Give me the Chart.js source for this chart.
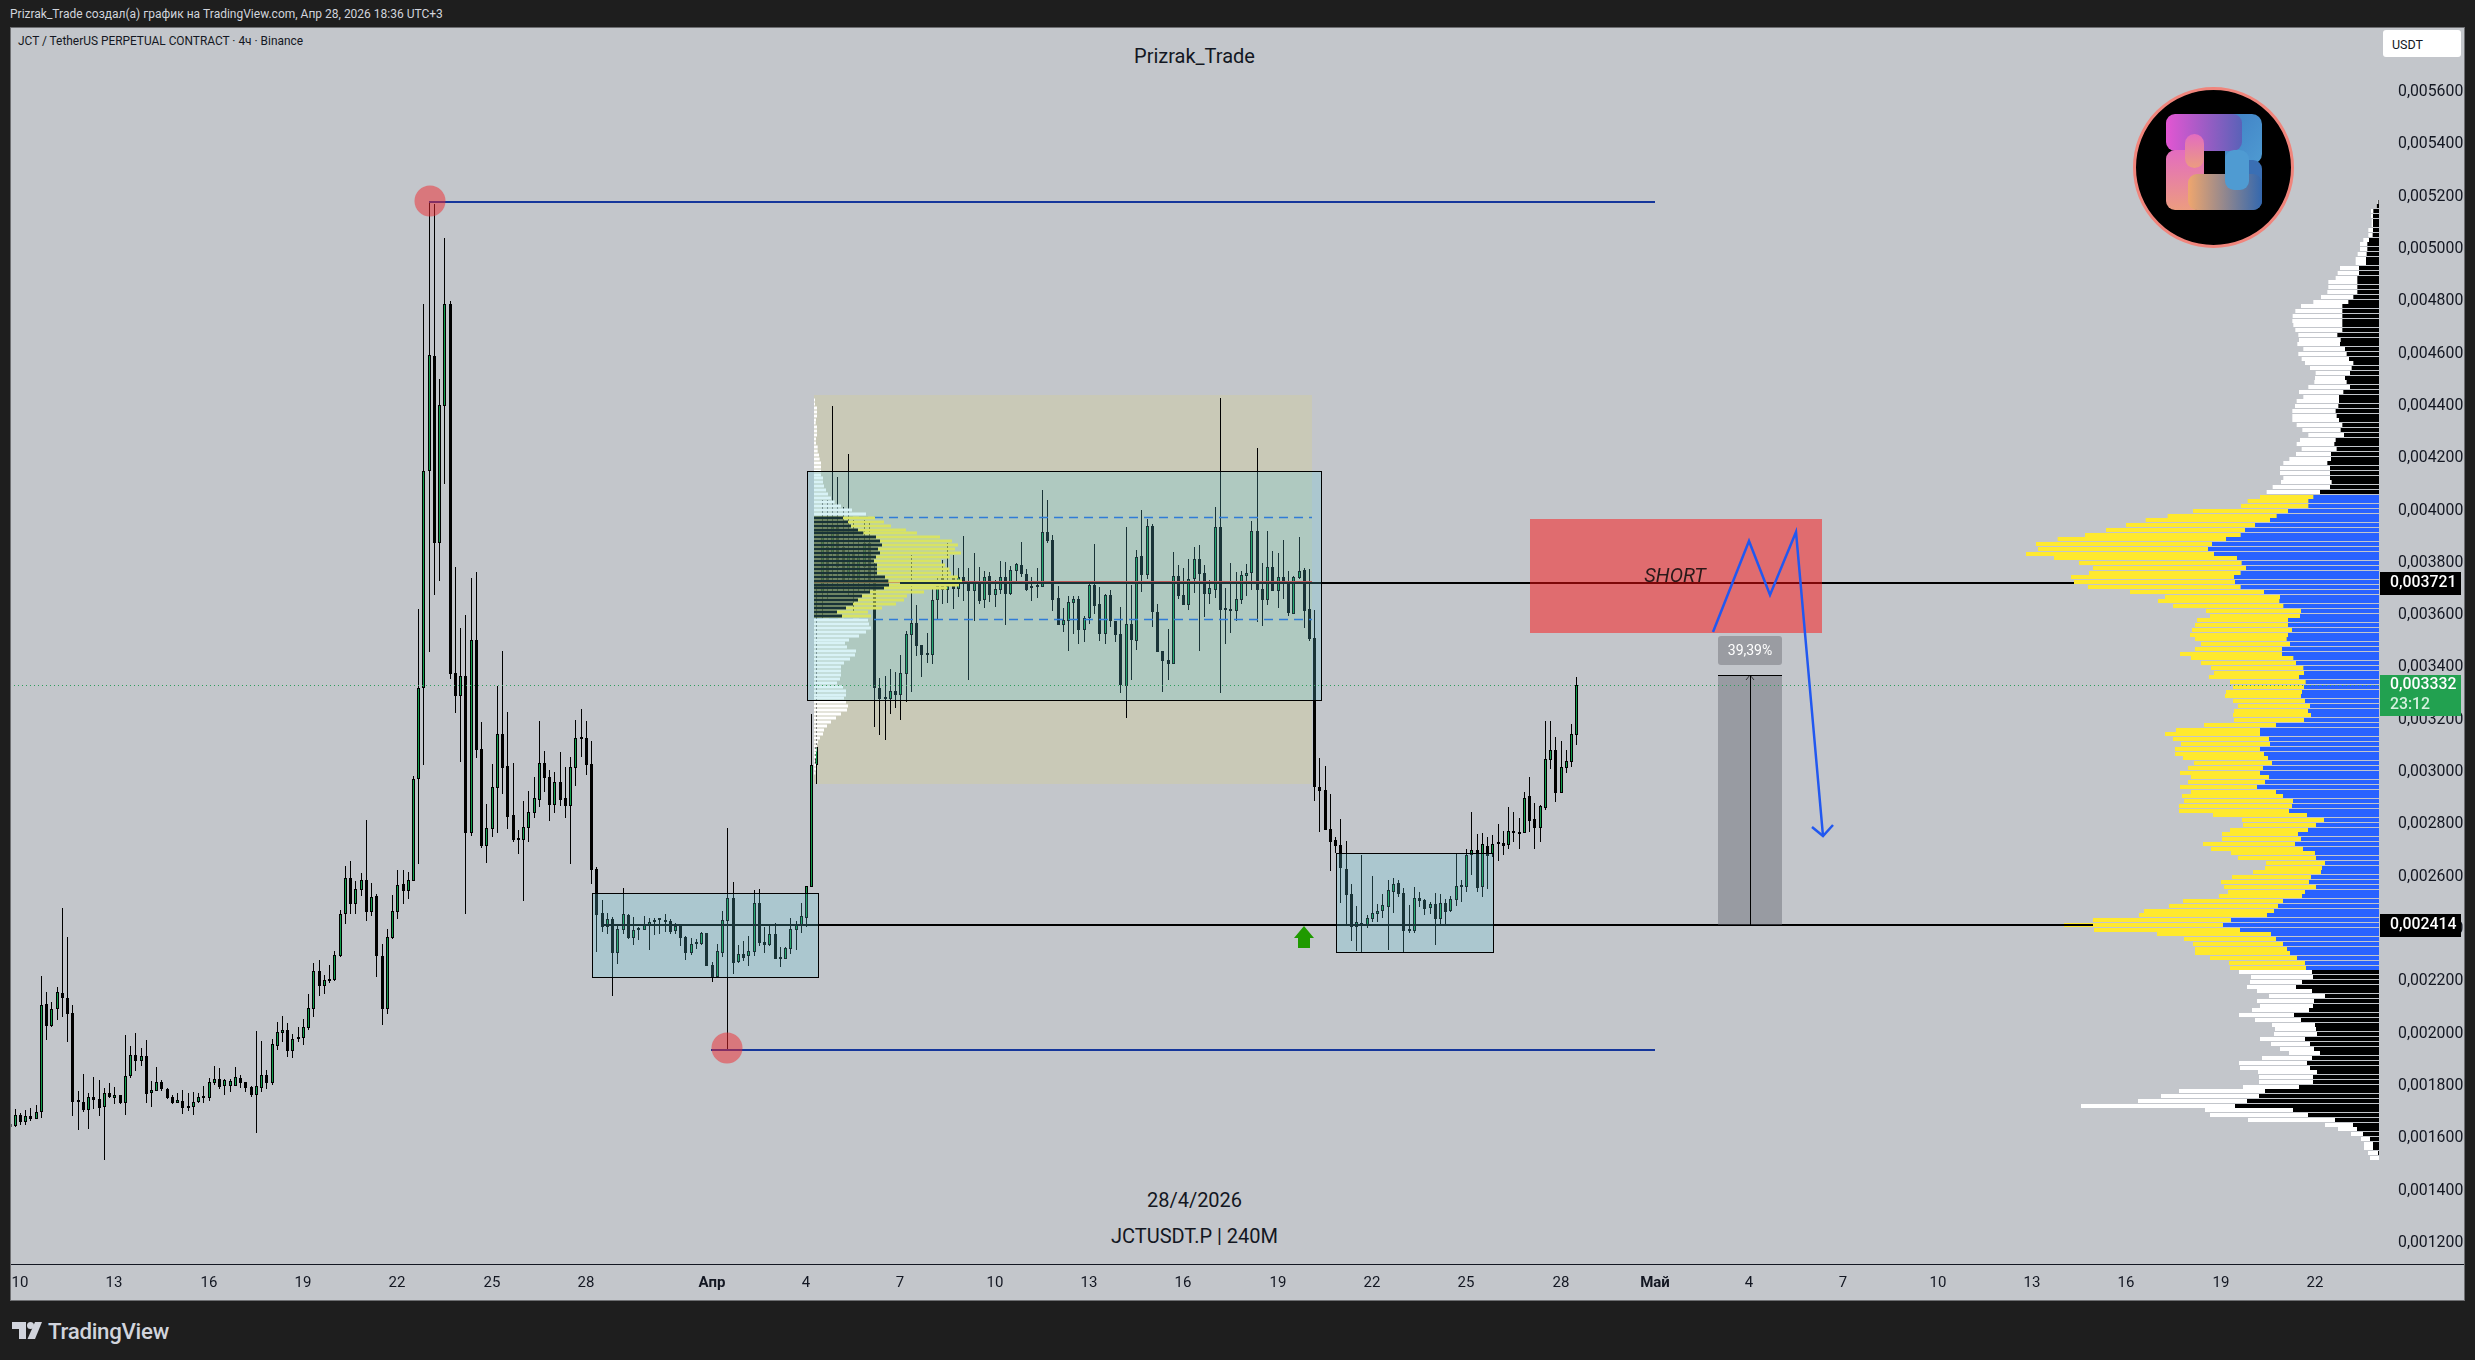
<!DOCTYPE html>
<html lang="ru">
<head>
<meta charset="utf-8">
<title>JCTUSDT.P 240M</title>
<script src="https://cdn.jsdelivr.net/npm/chart.js@4/dist/chart.umd.min.js"></script>
<style>
    html, body { margin: 0; padding: 0; width: 2475px; height: 1360px; overflow: hidden; background: #1e1e1e; font-family: Roboto, sans-serif; }
    #pane { position: absolute; left: 10px; top: 27px; width: 2453px; height: 1272px; background: #c3c6cb; border: 1px solid #6e6f72; }
    canvas { position: absolute; left: 0; top: 0; }
    .txt { position: absolute; white-space: nowrap; }
    #header { left: 10px; top: 7px; font-size: 12px; color: #d1d4dc; }
    #symbol { left: 18px; top: 34px; font-size: 11.9px; color: #131722; }
    .mark { left: 0; width: 2389px; text-align: center; color: #131722; font-size: 20px; }
    #usdt { left: 2383px; top: 30px; width: 78px; height: 27px; background: #fff; border-radius: 3px; font-size: 12.5px; line-height: 29px; text-indent: 9px; color: #131722; }
    #brand { left: 48px; top: 1318px; font-size: 22.3px; font-weight: 500; color: #d1d4dc; letter-spacing: -0.3px; }
    #brandIcon { position: absolute; left: 12px; top: 1322px; }
    #logo { position: absolute; left: 2132px; top: 86px; }
</style>
</head>
<body>
<div id="pane"></div>
<div class="txt" id="header">Prizrak_Trade создал(а) график на TradingView.com, Апр 28, 2026 18:36 UTC+3</div>
<div class="txt" id="symbol">JCT / TetherUS PERPETUAL CONTRACT · 4ч · Binance</div>
<div class="txt mark" style="top:44px">Prizrak_Trade</div>
<div class="txt mark" style="top:1188px">28/4/2026</div>
<div class="txt mark" style="top:1224px">JCTUSDT.P | 240M</div>
<div class="txt" id="usdt">USDT</div>
<div class="txt" id="brand">TradingView</div>
<svg id="brandIcon" width="30" height="18" viewBox="0 0 30 18">
    <path fill="#d1d4dc" d="M0 0H14V17H7V7H0Z"/>
    <circle fill="#d1d4dc" cx="18.5" cy="3.5" r="3.5"/>
    <path fill="#d1d4dc" d="M23 0H30L23 17H15.5Z"/>
</svg>
<canvas id="grafico" width="2475" height="1360"></canvas>
<svg id="logo" width="164" height="164" viewBox="0 0 164 164" style="z-index:3">
    <defs>
        <linearGradient id="gTop" x1="0" x2="1" y1="0" y2="0"><stop offset="0" stop-color="#e356d2"/><stop offset="1" stop-color="#5a62b8"/></linearGradient>
        <linearGradient id="gRight" x1="0" x2="1" y1="0" y2="1"><stop offset="0" stop-color="#3f7fc4"/><stop offset="1" stop-color="#4f9bd2"/></linearGradient>
        <linearGradient id="gLeft" x1="0" x2="0" y1="0" y2="1"><stop offset="0" stop-color="#e36cc0"/><stop offset="1" stop-color="#ec9c80"/></linearGradient>
        <linearGradient id="gBottom" x1="0" x2="1" y1="0" y2="0"><stop offset="0" stop-color="#efa66e"/><stop offset="1" stop-color="#3468ae"/></linearGradient>
    </defs>
    <circle cx="81.5" cy="81.5" r="79" fill="#000" stroke="#f0857c" stroke-width="3"/>
    <g transform="translate(34,28)">
        <rect x="57" y="0" width="39" height="50" rx="10" fill="url(#gRight)"/>
        <rect x="0" y="0" width="76" height="37" rx="9" fill="url(#gTop)"/>
        <rect x="60" y="46" width="36" height="50" rx="9" fill="#3a6fb4"/>
        <rect x="0" y="36" width="38" height="60" rx="9" fill="url(#gLeft)"/>
        <rect x="19" y="20" width="19" height="34" rx="9.5" fill="url(#gLeft)"/>
        <rect x="22" y="60" width="74" height="36" rx="9" fill="url(#gBottom)"/>
        <rect x="38" y="37" width="21" height="23" fill="#000"/>
        <rect x="59" y="36" width="24" height="40" rx="9" fill="#4f9bd2"/>
    </g>
</svg>

<script>
// Velas de 4h: a posição 0 dos arrays é a barra -2 (10 mar = barra 0)
// Preços em milionésimos de USDT: 3332 = 0,003332
const firstBar = -2;
const opens = [
    1655,1648,1688,1664,1684,1675,1699,2112,2031,2093,
    2154,2135,2078,1741,1738,1710,1757,1749,1721,1772,
    1755,1766,1736,1840,1917,1897,1913,1775,1782,1814,
    1787,1757,1736,1741,1722,1721,1738,1755,1755,1813,
    1826,1798,1801,1801,1829,1814,1795,1767,1794,1841,
    1813,1954,2004,2013,1934,1986,1985,2023,2096,2238,
    2184,2203,2204,2297,2456,2594,2497,2551,2586,2467,
    2525,2296,2096,2365,2467,2571,2547,2585,2972,3320,
    4152,4590,3877,4401,4788,3378,3292,3366,2768,3504,
    3087,2719,2784,2941,3144,3023,2835,2743,2739,2788,
    2845,2895,3034,2980,2876,2961,2900,2872,3017,3128,
    3129,3030,2630,2460,2409,2437,2310,2398,2452,2367,
    2398,2398,2414,2435,2437,2435,2430,2394,2414,2370,
    2310,2344,2344,2385,2261,2217,2310,2432,2517,2273,
    2303,2296,2314,2498,2349,2339,2380,2289,2287,2325,
    2398,2414,2444,2562,3026,3684,3862,3836,3938,3862,
    3747,3836,3734,3785,3875,3722,3322,3280,3280,3309,
    3296,3375,3524,3569,3485,3450,3449,3656,3747,3696,
    3741,3700,3745,3728,3694,3722,3658,3749,3678,3696,
    3745,3682,3770,3791,3756,3703,3709,3709,3917,3886,
    3664,3562,3579,3648,3661,3543,3589,3715,3643,3528,
    3677,3577,3528,3329,3566,3503,3825,3754,3941,3612,
    3463,3429,3413,3749,3677,3639,3738,3814,3760,3681,
    3696,3937,3622,3622,3617,3658,3751,3763,3921,3699,
    3656,3783,3694,3745,3729,3606,3742,3771,3622,3511,
    2942,2930,2781,2739,2720,2628,2533,2409,2422,2416,
    2440,2458,2469,2484,2542,2575,2537,2393,2393,2518,
    2511,2481,2496,2439,2500,2469,2511,2561,2561,2683,
    2701,2561,2716,2687,2725,2729,2723,2774,2770,2769,
    2909,2821,2786,2864,3048,3085,2921,3017,3040,3143,
];
const highs = [
    1674,1712,1696,1708,1715,1727,2221,2159,2121,2179,
    2481,2370,2108,1781,1846,1772,1834,1823,1791,1812,
    1796,1766,1995,1953,2001,1944,1976,1819,1873,1822,
    1791,1766,1772,1784,1772,1777,1772,1800,1829,1875,
    1868,1826,1826,1873,1841,1815,1800,2010,1972,1860,
    1980,2045,2068,2040,1999,2026,2056,2151,2269,2282,
    2223,2263,2316,2472,2641,2659,2584,2614,2817,2576,
    2534,2343,2400,2530,2626,2626,2618,2985,3624,4790,
    5181,5172,4503,5042,4801,3784,3551,3601,3742,3765,
    3190,2877,3031,3329,3463,3229,3034,2779,2888,2927,
    2981,3195,3081,3008,3000,3077,3020,3058,3199,3241,
    3195,3119,2637,2511,2460,2445,2412,2556,2458,2446,
    2407,2450,2441,2441,2441,2458,2438,2422,2414,2372,
    2366,2362,2389,2385,2274,2343,2469,2786,2580,2339,
    2354,2373,2549,2553,2408,2414,2423,2331,2331,2442,
    2431,2500,2565,3222,3715,4040,4040,4400,4128,4015,
    4216,3964,3900,3964,3951,3798,3359,3367,3393,3383,
    3448,3540,3830,3639,3486,3531,3703,3747,3811,3875,
    3830,3779,3903,3779,3839,3785,3769,3765,3734,3807,
    3803,3788,3801,3878,3775,3746,3780,4079,4040,3907,
    3712,3627,3673,3673,3672,3597,3722,3872,3709,3681,
    3696,3577,3630,3937,3715,3849,4002,3968,3949,3643,
    3463,3547,3842,3792,3780,3815,3861,3868,3792,3734,
    4014,4430,3703,3799,3765,3769,3796,3960,4238,3799,
    3922,3845,3838,3887,3769,3750,3899,3780,3777,3620,
    3053,3023,2915,2751,2821,2735,2572,2488,2683,2454,
    2603,2496,2534,2588,2595,2588,2557,2492,2561,2542,
    2515,2503,2538,2534,2515,2526,2691,2588,2706,2848,
    2763,2767,2752,2760,2802,2775,2867,2848,2825,2924,
    2981,2881,2874,3195,3195,3134,3119,3085,3184,3364,
];
const lows = [
    1638,1645,1651,1651,1668,1675,1678,1976,2026,2052,
    2065,1968,1685,1632,1702,1636,1712,1685,1517,1754,
    1733,1733,1689,1831,1857,1877,1735,1720,1781,1782,
    1750,1731,1736,1693,1705,1689,1735,1735,1743,1804,
    1789,1766,1777,1800,1793,1777,1758,1620,1777,1789,
    1805,1938,1968,1911,1907,1968,1957,2015,2064,2144,
    2152,2195,2203,2293,2419,2458,2459,2526,2431,2450,
    2217,2033,2075,2361,2439,2496,2515,2585,2649,3027,
    3461,3677,3731,4102,3356,3227,3039,2458,2756,3055,
    2710,2653,2752,2767,2916,2782,2733,2687,2507,2733,
    2825,2867,2924,2813,2844,2870,2825,2649,2947,3058,
    2989,2572,2312,2389,2381,2144,2266,2381,2362,2339,
    2358,2396,2320,2377,2381,2389,2381,2381,2335,2282,
    2301,2324,2339,2259,2198,2215,2293,1940,2228,2270,
    2278,2259,2297,2335,2308,2335,2286,2255,2286,2305,
    2320,2385,2408,2562,2955,3588,3658,3684,3684,3684,
    3677,3613,3684,3684,3684,3174,3142,3123,3222,3245,
    3199,3268,3306,3444,3365,3416,3413,3584,3644,3645,
    3624,3671,3654,3352,3578,3643,3627,3652,3631,3681,
    3562,3677,3729,3747,3692,3654,3666,3709,3876,3616,
    3562,3536,3463,3528,3490,3498,3566,3605,3501,3490,
    3555,3498,3303,3207,3352,3467,3689,3738,3555,3459,
    3306,3352,3413,3662,3639,3620,3685,3463,3593,3643,
    3666,3303,3490,3532,3578,3643,3673,3696,3574,3559,
    3639,3692,3627,3662,3597,3605,3738,3551,3501,2891,
    2771,2779,2622,2690,2500,2416,2354,2316,2311,2404,
    2427,2427,2442,2320,2461,2523,2311,2384,2385,2484,
    2454,2458,2339,2419,2416,2465,2488,2503,2542,2607,
    2542,2523,2553,2674,2660,2683,2706,2733,2706,2766,
    2771,2706,2733,2855,3012,2886,2920,2997,3020,3104,
];
const closes = [
    1645,1688,1664,1684,1674,1699,2108,2031,2093,2158,
    2138,2077,1740,1740,1708,1757,1748,1717,1772,1758,
    1766,1736,1837,1917,1897,1913,1771,1784,1814,1787,
    1754,1736,1745,1716,1716,1738,1757,1757,1814,1826,
    1796,1822,1818,1833,1813,1793,1766,1799,1841,1813,
    1959,2005,2013,1934,1979,1980,2026,2097,2238,2184,
    2204,2204,2300,2456,2594,2497,2552,2586,2467,2521,
    2295,2096,2368,2468,2567,2547,2586,2972,3320,4150,
    4593,3875,4402,4788,3376,3292,3366,2768,3504,3086,
    2718,2785,2942,3144,3017,2830,2742,2742,2789,2846,
    2900,3034,2979,2876,2961,2895,2872,3018,3129,3129,
    3028,2627,2455,2409,2437,2310,2399,2456,2366,2395,
    2400,2414,2426,2427,2435,2427,2389,2410,2367,2310,
    2342,2347,2385,2260,2215,2315,2433,2517,2271,2303,
    2291,2315,2498,2348,2340,2380,2287,2287,2326,2399,
    2414,2449,2563,3026,3095,3900,3734,3938,3785,3722,
    3836,3734,3824,3875,3722,3320,3280,3287,3309,3296,
    3378,3528,3569,3483,3449,3449,3658,3713,3696,3713,
    3700,3747,3722,3694,3722,3654,3745,3678,3699,3745,
    3682,3771,3796,3759,3696,3710,3712,3917,3884,3658,
    3562,3580,3649,3661,3543,3589,3715,3635,3528,3677,
    3578,3524,3333,3566,3505,3822,3754,3941,3612,3459,
    3425,3413,3749,3673,3639,3737,3814,3757,3681,3703,
    3937,3620,3620,3617,3661,3752,3760,3921,3696,3656,
    3783,3692,3745,3729,3608,3745,3768,3617,3509,2944,
    2929,2779,2733,2719,2633,2530,2409,2426,2416,2441,
    2460,2468,2491,2548,2571,2534,2393,2395,2518,2507,
    2477,2495,2439,2498,2465,2514,2563,2563,2682,2701,
    2557,2725,2679,2725,2728,2718,2774,2767,2763,2900,
    2813,2786,2870,3049,3083,2921,3018,3041,3144,3332,
];

// Eixos
const priceTicks = [5600,5400,5200,5000,4800,4600,4400,4200,4000,3800,3600,3400,3200,3000,2800,2600,2400,2200,2000,1800,1600,1400,1200];
const timeTickBars = [0,18,36,54,72,90,108,132,150,168,186,204,222,240,258,276,294,312,330,348,366,384,402,420,438];
const timeTickLabels = ["10","13","16","19","22","25","28","Апр","4","7","10","13","16","19","22","25","28","Май","4","7","10","13","16","19","22"];

// Perfil de volume da direita (de cima para baixo)
const rightProfileTop = 5181;
const rightProfileStep = 18.19;
const rightProfileValueArea = [62, 161];
const rightProfileTotal = [
    4,9,24,24,22,22,32,32,47,57,57,64,70,70,117,124,130,152,152,155,
    174,197,234,251,259,260,257,251,242,240,245,227,242,232,222,207,190,192,194,212,
    240,227,247,252,260,260,260,247,230,212,237,247,232,249,269,287,297,297,287,294,
    319,337,357,394,414,558,634,700,759,819,882,964,1029,1023,1059,975,900,858,870,924,
    915,873,747,642,663,618,519,507,546,552,561,567,552,534,552,597,564,534,504,495,
    510,447,438,459,462,438,423,435,438,435,525,609,642,618,594,612,612,588,555,573,
    597,564,573,597,564,591,585,600,600,498,411,408,447,471,471,528,504,444,423,339,
    342,378,441,474,465,453,480,588,630,705,720,858,945,855,666,585,558,552,552,507,
    450,447,420,384,387,396,366,330,366,357,381,420,372,321,312,315,357,324,297,270,
    351,420,417,363,360,360,408,600,654,723,894,522,507,393,162,123,84,54,45,45,33,27,
];
const rightProfileInner = [
    2,7,17,18,18,18,18,19,30,35,35,37,39,39,60,60,65,65,65,65,
    77,92,110,110,110,110,110,110,125,115,117,102,97,90,77,82,87,102,97,87,
    107,120,120,122,130,127,120,110,115,105,130,134,127,144,144,155,147,147,147,142,
    147,177,197,212,212,273,307,327,372,402,415,459,501,513,495,426,412,399,415,435,
    432,415,345,297,299,287,234,237,273,273,261,273,277,267,291,291,257,249,227,225,
    240,220,225,231,234,222,207,213,204,225,309,357,357,330,327,357,345,333,321,348,
    357,330,342,366,309,288,258,261,270,216,165,189,213,243,234,252,228,192,189,162,
    171,174,204,210,189,222,231,288,303,315,336,444,468,417,324,309,288,276,267,246,
    222,219,201,198,231,249,201,162,195,198,210,255,234,192,189,186,222,207,195,177,
    201,216,207,186,198,198,240,342,360,396,432,258,213,132,78,66,48,27,18,18,3,0,
];

// Perfil de volume fixo dentro do range (de cima para baixo)
const leftProfileTop = 4423;
const leftProfileStep = 15.02;
const leftProfileTotal = [
    3,3,9,9,9,6,5,9,9,9,6,6,11,11,15,17,21,21,21,21,27,27,30,36,42,51,62,81,114,156,
    183,210,231,276,309,378,414,432,423,441,407,381,393,406,411,432,444,435,399,330,279,270,246,204,162,171,
    162,165,171,156,135,105,93,99,126,123,108,90,81,81,81,78,69,87,96,96,90,96,102,99,81,66,51,39,30,27,18,12,9,8,6,6,4,6,6,4,
];
const leftProfileInner = [
    0,0,0,0,0,0,0,0,0,0,0,0,0,0,0,0,0,0,0,0,0,0,0,0,0,0,0,0,0,0,
    87,102,111,132,148,186,198,204,192,198,186,180,189,189,189,213,223,225,210,168,144,132,117,96,69,84,
    0,0,0,0,0,0,0,0,0,0,0,0,0,0,0,0,0,0,0,0,0,0,0,0,0,0,0,0,0,0,0,0,0,0,0,0,0,0,0,0,
];

// Desenhos: [barra inicial, barra final, preço de cima, preço de baixo]
const olivePocBox = [151.5, 246.6, 4442, 2955];
const tealBoxes = [[109.2, 152.2, 2537, 2215], [150.1, 248.2, 4150, 3275], [251.2, 281.2, 2690, 2311]];
const shortBox = [288.2, 343.9, 3968, 3532];
const measureBox = [324, 336.3, 3371, 2414];

const currentPrice = 3332;
const levelHigh = 3721;
const levelLow = 2414;
const pocPrice = 3727;
const vahPrice = 3974;
const valPrice = 3584;
const swingHigh = 5180;
const swingLow = 1938;
const zigzagBars = [323.1, 330, 334, 339, 344.1];
const zigzagPrices = [3537, 3884, 3676, 3919, 2756];
const arrowHeadBars = [341.9, 344.1, 346];
const arrowHeadPrices = [2791, 2756, 2798];
const circleBars = [78.2, 135];
const circlePrices = [5183, 1945];

const bars = opens.map((_, i) => i + firstBar);
const pts = (xs, ys) => xs.map((x, i) => ({ x, y: ys[i] }));
const hLine = (from, to, price) => [{ x: from, y: price }, { x: to, y: price }];

function polyline(data, color, width, order, extra) {
    return Object.assign({
        type: "line", data, xAxisID: "x", yAxisID: "y", order,
        borderColor: color, borderWidth: width, pointRadius: 0, tension: 0, fill: false,
    }, extra);
}

function profileBars(rows, top, step, axis, colors, thickness, order) {
    return {
        type: "bar", indexAxis: "y", xAxisID: axis, yAxisID: "y", order, grouped: false,
        data: rows.map((v, i) => ({ x: v, y: top - i * step })),
        backgroundColor: colors, barThickness: thickness, inflateAmount: 0, borderWidth: 0,
    };
}

const inVA = (i) => i >= rightProfileValueArea[0] && i <= rightProfileValueArea[1];

function rectOf(chart, box) {
    const { x, y } = chart.scales;
    const x0 = x.getPixelForValue(box[0]), x1 = x.getPixelForValue(box[1]);
    const y0 = y.getPixelForValue(box[2]), y1 = y.getPixelForValue(box[3]);
    return [x0, y0, x1 - x0, y1 - y0];
}

function drawZones(chart) {
    const ctx = chart.ctx;
    tealBoxes.forEach((box) => {
        const r = rectOf(chart, box);
        ctx.fillStyle = "rgba(100, 205, 220, 0.25)";
        ctx.fillRect(...r);
        ctx.strokeStyle = "#000";
        ctx.lineWidth = 1;
        ctx.strokeRect(r[0] + 0.5, r[1] + 0.5, r[2], r[3]);
    });
    ctx.fillStyle = "rgba(255, 14, 17, 0.49)";
    ctx.fillRect(...rectOf(chart, shortBox));
    ctx.fillStyle = "rgba(100, 102, 112, 0.45)";
    ctx.fillRect(...rectOf(chart, measureBox));
}

const tvOverlay = {
    id: "tvOverlay",
    beforeDatasetsDraw(chart) {
        chart.ctx.fillStyle = "#c9c9b7";
        chart.ctx.fillRect(...rectOf(chart, olivePocBox));
    },
    beforeDatasetDraw(chart, args) {
        const n = chart.data.datasets[args.index].nudge;
        if (n) {
            chart.ctx.save();
            chart.ctx.translate(n[0], n[1]);
        }
    },
    afterDatasetDraw(chart, args) {
        const ds = chart.data.datasets[args.index];
        if (ds.nudge) chart.ctx.restore();
        if (ds.zonesAfter) drawZones(chart);
    },
    afterDraw(chart) {
        const ctx = chart.ctx;
        const { x, y } = chart.scales;
        const area = chart.chartArea;

        // linha do eixo do tempo
        ctx.fillStyle = "#131722";
        ctx.fillRect(11, area.bottom, 2453, 1);

        // seta verde
        const ax = x.getPixelForValue(245.1), ay = y.getPixelForValue(levelLow) + 1;
        ctx.fillStyle = "#1f9a00";
        ctx.beginPath();
        ctx.moveTo(ax, ay);
        ctx.lineTo(ax + 10, ay + 12);
        ctx.lineTo(ax + 6, ay + 12);
        ctx.lineTo(ax + 6, ay + 22);
        ctx.lineTo(ax - 6, ay + 22);
        ctx.lineTo(ax - 6, ay + 12);
        ctx.lineTo(ax - 10, ay + 12);
        ctx.closePath();
        ctx.fill();

        // textos dos desenhos
        ctx.textBaseline = "middle";
        ctx.textAlign = "center";
        ctx.font = "italic 20px Roboto";
        ctx.fillStyle = "#2a1a1a";
        ctx.fillText("SHORT", x.getPixelForValue(315.8), y.getPixelForValue(3746));

        const chipX = x.getPixelForValue(330.2), chipY = y.getPixelForValue(3463);
        ctx.fillStyle = "#9a9ca2";
        ctx.beginPath();
        ctx.roundRect(chipX - 32, chipY - 15, 64, 29, 3);
        ctx.fill();
        ctx.fillStyle = "#fff";
        ctx.font = "14px Roboto";
        ctx.fillText("39,39%", chipX, chipY);

        // etiquetas de preço no eixo
        const tag = (price, text, bg, fg) => {
            const py = y.getPixelForValue(price);
            ctx.fillStyle = bg;
            ctx.fillRect(2380, py - 11, 81, 23);
            ctx.fillStyle = fg;
            ctx.textAlign = "left";
            ctx.font = "500 15.8px Roboto";
            ctx.fillText(text, 2390, py);
        };
        tag(levelHigh, "0,003721", "#000", "#fff");
        tag(levelLow, "0,002414", "#000", "#fff");

        const py = y.getPixelForValue(currentPrice);
        ctx.fillStyle = "#22a150";
        ctx.fillRect(2380, py - 10, 81, 41);
        ctx.fillStyle = "#fff";
        ctx.font = "500 15.8px Roboto";
        ctx.fillText("0,003332", 2390, py);
        ctx.fillStyle = "#d5f0de";
        ctx.fillText("23:12", 2390, py + 20);
    },
};

const ctx = document.getElementById("grafico").getContext("2d");

new Chart(ctx, {
    type: "bar",
    plugins: [tvOverlay],
    data: {
        datasets: [
            // velas: pavio e corpo
            {
                data: bars.map((b, i) => ({ x: b, y: [lows[i], highs[i]] })),
                backgroundColor: "#000", barThickness: 1, grouped: false, inflateAmount: 0,
                borderWidth: 0, order: 90, nudge: [0.5, 0], xAxisID: "x", yAxisID: "y",
            },
            {
                data: bars.map((b, i) => ({ x: b, y: [opens[i], closes[i]] })),
                backgroundColor: opens.map((o, i) => (closes[i] >= o ? "#0f9d4b" : "#000")),
                borderColor: "#000", borderWidth: 1, borderSkipped: false, minBarLength: 2,
                barThickness: 3, grouped: false, inflateAmount: 0, order: 89, nudge: [0.5, 0], xAxisID: "x", yAxisID: "y",
            },
            // perfis
            polyline(hLine(151.5, 246.6, vahPrice), "#1f62d6", 1.5, 85, { borderDash: [9, 6], nudge: [0, 0.5] }),
            polyline(hLine(151.5, 246.6, valPrice), "#1f62d6", 1.5, 85, { borderDash: [9, 6], nudge: [0, 0.5] }),
            polyline(hLine(151.5, 246.6, pocPrice), "#d9302a", 2, 84),
            profileBars(leftProfileTotal, leftProfileTop, leftProfileStep, "volL",
                leftProfileInner.map((v) => (v > 0 ? "#ffeb3b" : "#ffffff")), 3, 80),
            profileBars(leftProfileInner, leftProfileTop, leftProfileStep, "volL", "#000", 3, 79),
            profileBars(rightProfileTotal, rightProfileTop, rightProfileStep, "volR",
                rightProfileTotal.map((_, i) => (inVA(i) ? "#ffe92e" : "#ffffff")), 4, 78),
            profileBars(rightProfileInner, rightProfileTop, rightProfileStep, "volR",
                rightProfileInner.map((_, i) => (inVA(i) ? "#2962ff" : "#000")), 4, 77),
            // níveis, por baixo das caixas
            polyline(hLine(168, 392, levelHigh), "#000", 2, 61),
            polyline(hLine(111, 395.7, levelLow), "#000", 2, 60, { zonesAfter: true }),
            // por cima das caixas
            polyline(hLine(-2, 452, currentPrice), "#2e9e5c", 1, 58, { borderDash: [1, 3], nudge: [0, 0.5] }),
            polyline(hLine(78, 312, swingHigh), "#15369b", 2, 55),
            polyline(hLine(131.9, 312, swingLow), "#15369b", 2, 55),
            polyline(hLine(324, 336.3, measureBox[2]), "#000", 1, 54, { nudge: [0, 0.5] }),
            polyline(pts([330.2, 330.2], [measureBox[3], measureBox[2]]), "#000", 1, 54, { nudge: [0.5, 0] }),
            polyline(pts([329.4, 330.2, 331], [3352, 3371, 3352]), "#333", 1, 54),
            {
                type: "line", data: pts(circleBars, circlePrices), xAxisID: "x", yAxisID: "y", order: 50, showLine: false,
                pointRadius: 15.5, pointBackgroundColor: "rgba(240, 40, 45, 0.5)", pointBorderWidth: 0,
            },
            polyline(pts(zigzagBars, zigzagPrices), "#2158f0", 2.5, 40),
            polyline(pts(arrowHeadBars, arrowHeadPrices), "#2158f0", 2.5, 40),
        ],
    },
    options: {
        responsive: false,
        devicePixelRatio: 1,
        animation: false,
        events: [],
        layout: { autoPadding: false, padding: { left: 11, top: 28, right: 11, bottom: 60 } },
        plugins: { legend: { display: false }, tooltip: { enabled: false } },
        scales: {
            x: {
                type: "linear", axis: "x", position: "bottom", offset: false, alignToPixels: true,
                min: -1.718, max: 450.2,
                grid: { display: false, offset: false },
                border: { display: false },
                afterFit: (s) => { s.height = 36; },
                afterBuildTicks: (s) => { s.ticks = timeTickBars.map((value) => ({ value })); },
                ticks: {
                    autoSkip: false, maxRotation: 0, padding: 2, color: "#131722",
                    font: (c) => ({
                        family: "Roboto", size: 15,
                        weight: c.tick && [132, 312].includes(c.tick.value) ? "bold" : "normal",
                    }),
                    callback: (v) => timeTickLabels[timeTickBars.indexOf(v)],
                },
            },
            y: {
                type: "linear", axis: "y", position: "right", offset: false, alignToPixels: true,
                min: 1119.4, max: 5844.7,
                grid: { display: false, offset: false },
                border: { display: false },
                afterFit: (s) => { s.width = 85; },
                afterBuildTicks: (s) => { s.ticks = priceTicks.map((value) => ({ value })); },
                ticks: {
                    autoSkip: false, padding: 11, color: "#131722", labelOffset: 0,
                    font: { family: "Roboto", size: 15.8 },
                    callback: (v) => (v / 1e6).toFixed(6).replace(".", ","),
                },
            },
            // eixos dos perfis, escondidos: 3 unidades de volume = 1 px
            volR: { type: "linear", axis: "x", display: false, reverse: true, offset: false, min: 0, max: 7104, grid: { display: false } },
            volL: { type: "linear", axis: "x", display: false, offset: false, min: -2409, max: 4695, grid: { display: false } },
        },
    },
});
</script>
</body>
</html>
